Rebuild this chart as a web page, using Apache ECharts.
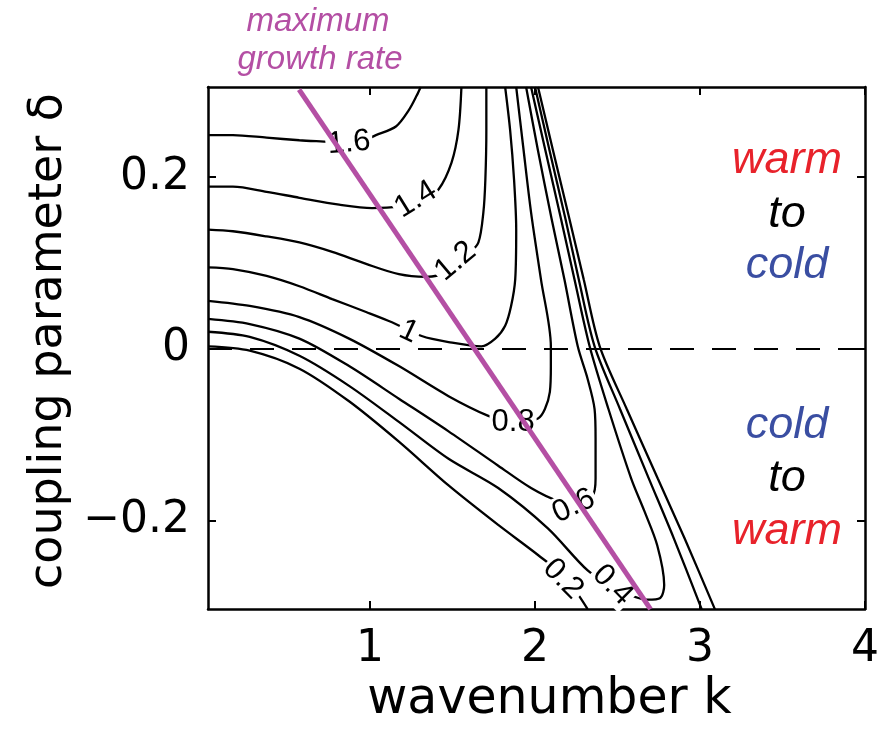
<!DOCTYPE html>
<html><head><meta charset="utf-8">
<script src="https://cdn.jsdelivr.net/npm/echarts@6/dist/echarts.min.js"></script>
<style>html,body{margin:0;padding:0;background:#fff}#chart{width:882px;height:730px}</style>
</head><body><div id="chart"></div>
<script>
// axis extents and tick positions
const kRange = [0.018, 4];
const deltaRange = [-0.303, 0.305];
const kTicks = [1, 2, 3, 4];
const deltaTicks = [-0.2, 0, 0.2];

// growth-rate contours in (k, delta)
const contour16 = [[0.018,0.249],[0.169,0.249],[0.373,0.246],[0.572,0.243],[0.753,0.241],[0.904,0.239],[1.036,0.249],[1.157,0.259],[1.235,0.278],[1.283,0.295],[1.307,0.305]];
const contour14 = [[0.018,0.189],[0.169,0.189],[0.373,0.183],[0.572,0.176],[0.813,0.168],[1.012,0.164],[1.175,0.166],[1.325,0.174],[1.416,0.186],[1.494,0.217],[1.536,0.255],[1.554,0.305]];
const contour12 = [[0.018,0.139],[0.169,0.137],[0.373,0.131],[0.572,0.124],[0.771,0.113],[0.976,0.099],[1.175,0.087],[1.337,0.084],[1.476,0.090],[1.596,0.110],[1.657,0.124],[1.687,0.159],[1.699,0.197],[1.705,0.255],[1.705,0.305]];
const contour10 = [[0.018,0.095],[0.169,0.093],[0.373,0.085],[0.572,0.073],[0.771,0.058],[0.976,0.043],[1.133,0.031],[1.313,0.015],[1.476,0.008],[1.675,0.003],[1.759,0.012],[1.819,0.027],[1.855,0.050],[1.880,0.081],[1.886,0.139],[1.873,0.197],[1.849,0.255],[1.819,0.305]];
const contour08 = [[0.018,0.056],[0.271,0.050],[0.572,0.037],[0.873,0.012],[1.175,-0.020],[1.476,-0.055],[1.717,-0.078],[1.867,-0.087],[2.018,-0.081],[2.060,-0.070],[2.090,-0.050],[2.096,-0.020],[2.096,0.003],[2.036,0.081],[1.976,0.159],[1.928,0.236],[1.886,0.305]];
const contour06 = [[0.018,0.035],[0.271,0.029],[0.572,0.012],[0.873,-0.020],[1.175,-0.058],[1.476,-0.096],[1.777,-0.136],[1.976,-0.162],[2.139,-0.177],[2.259,-0.180],[2.349,-0.171],[2.367,-0.151],[2.367,-0.104],[2.361,-0.070],[2.319,-0.035],[2.259,0.003],[2.178,0.081],[2.101,0.151],[2.017,0.232],[1.946,0.305]];
const contour04 = [[0.018,0.020],[0.271,0.014],[0.572,-0.008],[0.873,-0.043],[1.175,-0.085],[1.476,-0.128],[1.777,-0.162],[2.078,-0.209],[2.319,-0.258],[2.482,-0.278],[2.681,-0.292],[2.759,-0.290],[2.783,-0.275],[2.741,-0.229],[2.663,-0.189],[2.583,-0.151],[2.445,-0.070],[2.331,0.003],[2.239,0.081],[2.158,0.151],[2.062,0.232],[1.976,0.305]];
const contour02 = [[0.018,0.003],[0.271,-0.002],[0.572,-0.023],[0.873,-0.061],[1.175,-0.108],[1.476,-0.159],[1.777,-0.205],[2.018,-0.240],[2.187,-0.267],[2.319,-0.303]];
const contour02Right = [[2.000,0.305],[2.087,0.232],[2.185,0.151],[2.265,0.081],[2.361,0.003],[2.515,-0.070],[2.690,-0.151],[2.840,-0.220],[3.010,-0.303]];
const contour00 = [[2.018,0.305],[2.108,0.232],[2.209,0.151],[2.295,0.081],[2.392,0.003],[2.556,-0.070],[2.744,-0.151],[2.905,-0.220],[3.090,-0.303]];

// inline contour labels
const contourLabelText = ['1.6','1.4','1.2','1','0.8','0.6','0.2','0.4'];
const contourLabelAt = [[0.873,0.240],[1.277,0.174],[1.518,0.102],[1.235,0.020],[1.867,-0.086],[2.235,-0.183],[2.170,-0.268],[2.470,-0.275]];
const contourLabelAngle = [5, 32, 40, -25, 0, 25, -45, -45];

// ridge of maximum growth rate
const maxGrowthLine = [[0.57,0.302],[2.70,-0.303]];

const contours = [contour16, contour14, contour12, contour10, contour08, contour06, contour04, contour02, contour02Right, contour00];

const FONT = '"DejaVu Sans", sans-serif';
const AFONT = '"Liberation Sans", Arial, sans-serif';
const MAGENTA = '#b44fa4';

const chart = echarts.init(document.getElementById('chart'), null, {renderer: 'canvas'});

const tickStyle = {show: true, inside: true, length: 8, lineStyle: {color: '#000', width: 2}};
const lineStyleAxis = {show: true, onZero: false, lineStyle: {color: '#000', width: 2.5}};

const series = contours.map(pts => ({
  type: 'line', data: pts, showSymbol: false, smooth: 0.3, clip: true, z: 2,
  lineStyle: {color: '#000', width: 2.3}, silent: true
}));

series.push({
  type: 'line', data: [[kRange[0], 0], [kRange[1], 0]], showSymbol: false, z: 3,
  lineStyle: {color: '#000', width: 2, type: [24, 18]}, silent: true
});

series.push({
  type: 'scatter', symbolSize: 0, z: 4, silent: true,
  data: contourLabelAt.map((p, i) => ({
    value: p,
    label: {
      show: true, position: 'inside', formatter: contourLabelText[i],
      rotate: contourLabelAngle[i], fontFamily: AFONT, fontSize: 31, color: '#000',
      textBorderWidth: 0, opacity: 1,
      backgroundColor: '#fff', padding: [0, 2]
    }
  }))
});

series.push({
  type: 'line', data: maxGrowthLine, showSymbol: false, z: 6, clip: false,
  lineStyle: {color: MAGENTA, width: 5}, silent: true
});

const minus = v => String(v).replace('-', '\u2212');

chart.setOption({
  animation: false,
  backgroundColor: '#fff',
  grid: {left: 208, right: 13, top: 87, bottom: 119, show: false},
  xAxis: [{
    type: 'value', min: kRange[0], max: kRange[1], position: 'bottom',
    axisLine: lineStyleAxis,
    axisTick: Object.assign({customValues: kTicks}, tickStyle),
    axisLabel: {customValues: kTicks, fontFamily: FONT, fontSize: 44, color: '#000', margin: 18},
    splitLine: {show: false},
    name: 'wavenumber k', nameLocation: 'middle', nameGap: 64,
    nameTextStyle: {fontFamily: FONT, fontSize: 49, color: '#000', padding: [0, 0, 0, 26]}
  }, {
    type: 'value', min: kRange[0], max: kRange[1], position: 'top',
    axisLine: lineStyleAxis,
    axisTick: Object.assign({customValues: kTicks}, tickStyle),
    axisLabel: {show: false}, splitLine: {show: false}
  }],
  yAxis: [{
    type: 'value', min: deltaRange[0], max: deltaRange[1], position: 'left',
    axisLine: lineStyleAxis,
    axisTick: Object.assign({customValues: deltaTicks}, tickStyle),
    axisLabel: {customValues: deltaTicks, fontFamily: FONT, fontSize: 44, color: '#000', margin: 18,
      formatter: minus},
    splitLine: {show: false},
    name: 'coupling parameter \u03b4', nameLocation: 'middle', nameGap: 136,
    nameTextStyle: {fontFamily: FONT, fontSize: 46, color: '#000', padding: [0, 0, 0, 14]}
  }, {
    type: 'value', min: deltaRange[0], max: deltaRange[1], position: 'right',
    axisLine: lineStyleAxis,
    axisTick: Object.assign({customValues: deltaTicks}, tickStyle),
    axisLabel: {show: false}, splitLine: {show: false}
  }],
  graphic: [
    {type: 'text', x: 318, y: 22, style: {text: 'maximum', font: 'italic 33px ' + AFONT, fill: MAGENTA, textAlign: 'center', textVerticalAlign: 'middle'}},
    {type: 'text', x: 320, y: 60, style: {text: 'growth rate', font: 'italic 33px ' + AFONT, fill: MAGENTA, textAlign: 'center', textVerticalAlign: 'middle'}},
    {type: 'text', x: 787, y: 160, style: {text: 'warm', font: 'italic 45px ' + AFONT, fill: '#e8222b', textAlign: 'center', textVerticalAlign: 'middle'}},
    {type: 'text', x: 787, y: 214, style: {text: 'to', font: 'italic 45px ' + AFONT, fill: '#000', textAlign: 'center', textVerticalAlign: 'middle'}},
    {type: 'text', x: 787, y: 265, style: {text: 'cold', font: 'italic 45px ' + AFONT, fill: '#3a4ea2', textAlign: 'center', textVerticalAlign: 'middle'}},
    {type: 'text', x: 787, y: 425, style: {text: 'cold', font: 'italic 45px ' + AFONT, fill: '#3a4ea2', textAlign: 'center', textVerticalAlign: 'middle'}},
    {type: 'text', x: 787, y: 478, style: {text: 'to', font: 'italic 45px ' + AFONT, fill: '#000', textAlign: 'center', textVerticalAlign: 'middle'}},
    {type: 'text', x: 787, y: 531, style: {text: 'warm', font: 'italic 45px ' + AFONT, fill: '#e8222b', textAlign: 'center', textVerticalAlign: 'middle'}}
  ],
  series: series
});
</script></body></html>
